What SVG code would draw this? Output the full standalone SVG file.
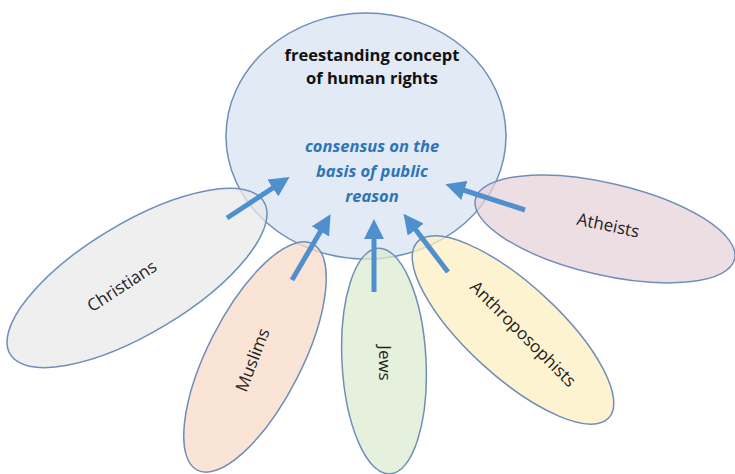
<svg xmlns="http://www.w3.org/2000/svg" width="735" height="474" viewBox="0 0 735 474">
<style>
.sh{stroke:#6f8fb8;stroke-width:1.5;fill-opacity:0.72}
.lbl{font-family:"Open Sans","Liberation Sans",sans-serif;font-size:17px;fill:#222;text-anchor:middle}
.ttl{font-family:"Open Sans","Liberation Sans",sans-serif;font-size:16.5px;font-weight:bold;fill:#111;text-anchor:middle}
.con{font-family:"Open Sans","Liberation Sans",sans-serif;font-size:16.5px;font-weight:bold;font-style:italic;fill:#2e75b6;text-anchor:middle}
.arr{stroke:#4f8fce;stroke-width:5;fill:none;marker-end:url(#ah)}
</style>
<defs>
<marker id="ah" markerWidth="4" markerHeight="4" refX="2.2" refY="2" orient="auto" markerUnits="strokeWidth">
<path d="M0,0 L4,2 L0,4 Z" fill="#4f8fce"/>
</marker>
</defs>
<rect width="735" height="474" fill="#fff"/>
<g id="center">
<ellipse class="sh" cx="366" cy="136" rx="140" ry="123" fill="#d6e2f1"/>
</g>
<g id="christians">
<ellipse class="sh" cx="137" cy="278" rx="148" ry="55" fill="#e9e9e9" transform="rotate(-31 137 278)"/>
<text class="lbl" transform="translate(125 291) rotate(-33)">Christians</text>
</g>
<g id="muslims">
<ellipse class="sh" cx="255" cy="357" rx="127" ry="47" fill="#f8d9c6" transform="rotate(-63 255 357)"/>
<text class="lbl" transform="translate(258 362) rotate(-69)">Muslims</text>
</g>
<g id="jews">
<ellipse class="sh" cx="384" cy="361" rx="42" ry="113" fill="#dcebd0" transform="rotate(-3 384 361)"/>
<text class="lbl" transform="translate(379 363) rotate(90)">Jews</text>
</g>
<g id="anthroposophists">
<ellipse class="sh" cx="513" cy="330" rx="130" ry="46" fill="#fcefbf" transform="rotate(42.5 513 330)"/>
<text class="lbl" transform="translate(519 338) rotate(45)">Anthroposophists</text>
</g>
<g id="atheists">
<ellipse class="sh" cx="605" cy="229" rx="133" ry="46" fill="#e6d1d8" transform="rotate(13 605 229)"/>
<text class="lbl" transform="translate(607 231) rotate(12)">Atheists</text>
</g>
<g id="center-text">
<text class="ttl" x="372" y="61">freestanding concept</text>
<text class="ttl" x="372" y="84">of human rights</text>
<text class="con" x="372" y="152">consensus on the</text>
<text class="con" x="372" y="177">basis of public</text>
<text class="con" x="372" y="202">reason</text>
</g>
<g id="connectors">
<line class="arr" x1="227" y1="218" x2="282" y2="182"/>
<line class="arr" x1="292" y1="280" x2="326" y2="222"/>
<line class="arr" x1="374" y1="292" x2="374" y2="228"/>
<line class="arr" x1="448" y1="272" x2="409" y2="221"/>
<line class="arr" x1="525" y1="210" x2="454" y2="187"/>
</g>
</svg>
